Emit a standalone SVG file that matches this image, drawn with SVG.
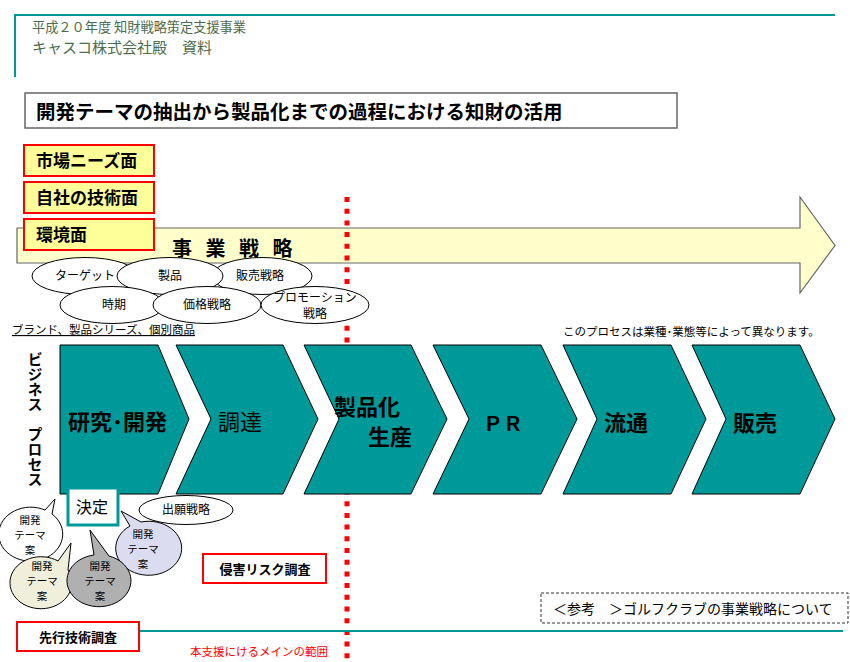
<svg xmlns="http://www.w3.org/2000/svg" width="850" height="662" viewBox="0 0 850 662">
<style>
text{font-family:"Noto Sans CJK JP","Noto Sans",sans-serif;fill:#000}
.hdr{fill:#4d6b4d}
.b{font-weight:bold}
.yb{fill:#ffff99;stroke:#ff0000;stroke-width:2}
.rb{fill:#fff;stroke:#ff0000;stroke-width:2}
.el{fill:#fff;stroke:#000;stroke-width:1}
.chev{fill:#009999;stroke:#000;stroke-width:1}
.bub{stroke:#000;stroke-width:1}
.s12{font-size:12px}
.bt{font-size:10.5px;text-anchor:middle}
.mid{text-anchor:middle}
</style>
<g id="header">
<path d="M15 77V15H835" fill="none" stroke="#009999" stroke-width="2"/>
<text class="hdr" x="32" y="32" font-size="13.2">平成２０年度 知財戦略策定支援事業</text>
<text class="hdr" x="32" y="53" font-size="15">キャスコ株式会社殿　資料</text>
</g>
<g id="title">
<rect x="25" y="93" width="652" height="35" fill="#fff" stroke="#666" stroke-width="1.5"/>
<text class="b" x="36" y="119" font-size="19.5">開発テーマの抽出から製品化までの過程における知財の活用</text>
</g>
<g id="strategy-arrow">
<path d="M17 228H800V197L835 245.5L800 293V263H17Z" fill="#ffffcc" stroke="#666" stroke-width="1.2"/>
<text class="b" x="172" y="256" font-size="20" letter-spacing="13.5">事業戦略</text>
</g>
<g id="market"><rect class="yb" x="24" y="145" width="130" height="31"/><text class="b" x="36" y="167" font-size="17">市場ニーズ面</text></g>
<g id="tech"><rect class="yb" x="24" y="182" width="130" height="31"/><text class="b" x="36" y="204" font-size="17">自社の技術面</text></g>
<g id="env"><rect class="yb" x="24" y="219" width="130" height="31"/><text class="b" x="36" y="241" font-size="17">環境面</text></g>
<g id="connectors">
<line x1="347" y1="197" x2="347" y2="662" stroke="#ff0000" stroke-width="5" stroke-dasharray="5 6.7"/>
<line x1="139" y1="631" x2="843" y2="631" stroke="#009999" stroke-width="2"/>
</g>
<g id="target"><ellipse class="el" cx="85" cy="276" rx="53" ry="18.5"/><text class="s12 mid" x="85" y="280">ターゲット</text></g>
<g id="sales-strategy"><ellipse class="el" cx="262" cy="276" rx="50" ry="18.5"/><text class="s12 mid" x="260" y="280">販売戦略</text></g>
<g id="product"><ellipse class="el" cx="170" cy="276" rx="53" ry="18.5"/><text class="s12 mid" x="170" y="280">製品</text></g>
<g id="timing"><ellipse class="el" cx="112" cy="305" rx="52" ry="18.5"/><text class="s12 mid" x="114" y="309">時期</text></g>
<g id="price"><ellipse class="el" cx="207" cy="305" rx="54" ry="18.5"/><text class="s12 mid" x="207" y="309">価格戦略</text></g>
<g id="promotion"><ellipse class="el" cx="315" cy="305" rx="54" ry="18.5"/><text class="s12 mid" x="315" y="302">プロモーション<tspan x="315" dy="16">戦略</tspan></text></g>
<g id="brand-note"><text x="12" y="334" font-size="11.5" text-decoration="underline">ブランド、製品シリーズ、個別商品</text></g>
<g id="process-note"><text x="563" y="336" font-size="11.5">このプロセスは業種･業態等によって異なります。</text></g>
<g id="business-process-label">
<text class="b" x="35" y="352" font-size="15" style="writing-mode:vertical-rl">ビジネス　プロセス</text>
</g>
<g id="rd"><path class="chev" d="M60 345H158L189 419L158 494H60Z"/><text class="b" x="68" y="430" font-size="22">研究･開発</text></g>
<g id="procurement"><path class="chev" d="M176 345H283L318 419L283 494H176L211 419Z"/><text x="218" y="430" font-size="22">調達</text></g>
<g id="production"><path class="chev" d="M304 345H411L447 419L411 494H304L339 419Z"/><text class="b" x="334" y="415" font-size="22">製品化<tspan x="368" dy="30">生産</tspan></text></g>
<g id="pr"><path class="chev" d="M433 345H541L577 419L541 494H433L469 419Z"/><text class="b" x="483" y="431" font-size="20">ＰＲ</text></g>
<g id="distribution"><path class="chev" d="M563 345H671L706 419L671 494H563L597 419Z"/><text class="b" x="604" y="431" font-size="22">流通</text></g>
<g id="sales"><path class="chev" d="M692 345H800L835 419L800 494H692L726 419Z"/><text class="b" x="733" y="431" font-size="22">販売</text></g>
<g id="decision"><rect x="68" y="488" width="50" height="37" fill="#fff" stroke="#009999" stroke-width="3"/><text x="76" y="513" font-size="16">決定</text></g>
<g id="filing"><ellipse class="el" cx="186" cy="510" rx="47" ry="14.5"/><text class="s12 mid" x="186" y="514">出願戦略</text></g>
<g id="idea1"><path class="bub" fill="#fff" d="M45 510L55 499L52 514A32 27 0 1 1 45 510Z"/><text class="bt" x="30" y="524">開発<tspan x="30" dy="15.2">テーマ</tspan><tspan x="30" dy="15.2">案</tspan></text></g>
<g id="idea2"><path class="bub" fill="#efefdc" d="M58 561L71 543L68 570A31 26 0 1 1 58 561Z"/><text class="bt" x="42" y="570">開発<tspan x="42" dy="15.2">テーマ</tspan><tspan x="42" dy="15.2">案</tspan></text></g>
<g id="idea4"><path class="bub" fill="#dcdcf0" d="M130 526L121 511L141 522A33 27 0 1 1 130 526Z"/><text class="bt" x="143" y="538">開発<tspan x="143" dy="15.2">テーマ</tspan><tspan x="143" dy="15.2">案</tspan></text></g>
<g id="idea3"><path class="bub" fill="#b0b0b0" d="M94 555L90 530L109 556A32 26 0 1 1 94 555Z"/><text class="bt" x="100" y="570">開発<tspan x="100" dy="15.2">テーマ</tspan><tspan x="100" dy="15.2">案</tspan></text></g>
<g id="infringement"><rect class="rb" x="203" y="554" width="123" height="29"/><text class="b mid" x="265" y="574" font-size="13">侵害リスク調査</text></g>
<g id="prior-art"><rect class="rb" x="17" y="622" width="122" height="29"/><text class="b mid" x="78" y="642" font-size="13">先行技術調査</text></g>
<g id="scope"><text x="190" y="656" font-size="11.5" style="fill:#ff0000">本支援にけるメインの範囲</text></g>
<g id="reference"><rect x="541" y="593" width="307" height="30" fill="#fff" stroke="#333" stroke-width="1" stroke-dasharray="3 2"/><text x="553" y="614" font-size="14">＜参考　＞ゴルフクラブの事業戦略について</text></g>
</svg>
